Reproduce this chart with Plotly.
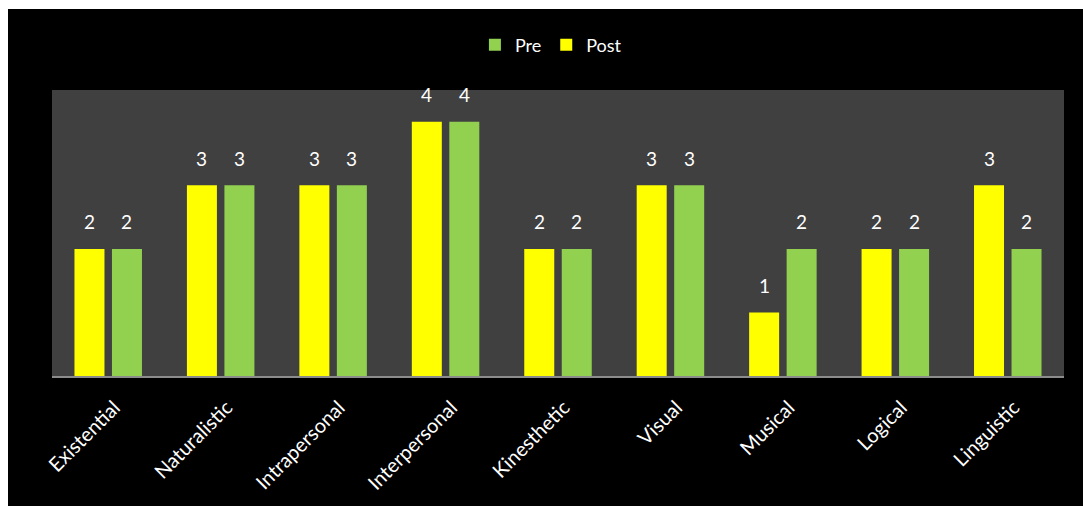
import plotly.graph_objects as go

categories = ["Existential", "Naturalistic", "Intrapersonal", "Interpersonal",
              "Kinesthetic", "Visual", "Musical", "Logical", "Linguistic"]
post_values = [2, 3, 3, 4, 2, 3, 1, 2, 3]
pre_values = [2, 3, 3, 4, 2, 3, 2, 2, 2]

W, H = 1083, 506
ML, MR, MT, MB = 52, 19, 90, 130
PW, PH = W - ML - MR, H - MT - MB

FAM = "Lato, 'Noto Sans', sans-serif"
font = dict(family=FAM, color="white", size=18)

fig = go.Figure()
fig.add_trace(go.Bar(x=categories, y=post_values, name="Post", marker_color="#FFFF00",
                     marker_line_width=0))
fig.add_trace(go.Bar(x=categories, y=pre_values, name="Pre", marker_color="#92D050",
                     marker_line_width=0))

BARGAP = 0.333
slot = (1 - BARGAP) / 2  # in category units
for cat, pv, qv in zip(categories, post_values, pre_values):
    for val, sign in ((pv, -1), (qv, 1)):
        fig.add_annotation(x=cat, y=val, text=str(val), showarrow=False,
                           xshift=sign * slot / 2 * PW / len(categories),
                           yshift=27, yanchor="middle",
                           font=dict(family=FAM, size=19, color="white"))

# white strips at left and top of the image
fig.add_shape(type="rect", xref="paper", yref="paper", layer="above",
              x0=-ML / PW, x1=(8 - ML) / PW, y0=-MB / PH, y1=1 + MT / PH,
              fillcolor="white", line_width=0)
fig.add_shape(type="rect", xref="paper", yref="paper", layer="above",
              x0=-ML / PW, x1=1 + MR / PW, y0=1 + (MT - 9) / PH, y1=1 + MT / PH,
              fillcolor="white", line_width=0)

fig.update_layout(
    width=W, height=H,
    margin=dict(l=ML, r=MR, t=MT, b=MB, pad=0),
    paper_bgcolor="black", plot_bgcolor="#404040",
    font=font,
    barmode="group", bargap=BARGAP, bargroupgap=0.2,
    showlegend=True,
    legend=dict(orientation="h", traceorder="reversed", x=0.493, xanchor="center",
                y=1 + 45 / PH, yanchor="middle", font=dict(family=FAM, size=18, color="white"),
                bgcolor="rgba(0,0,0,0)", itemwidth=30),
    xaxis=dict(tickangle=-45, showgrid=False, showline=True, linecolor="#8c8c8c",
               linewidth=2, ticks="outside", ticklen=10, tickcolor="rgba(0,0,0,0)",
               ticklabelshift=6,
               tickfont=dict(family=FAM, size=20, color="white")),
    yaxis=dict(range=[0, 4.5], visible=False, showgrid=False),
)

fig.write_html("out.html")
